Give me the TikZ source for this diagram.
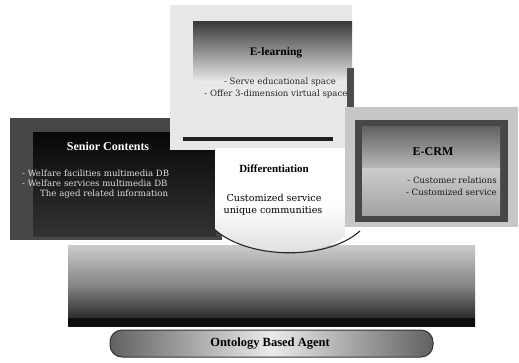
\documentclass[tikz,border=0pt]{standalone}
\usepackage{fontspec}
\setmainfont{Liberation Serif}
\newfontfamily\bodyfont{DejaVu Serif}
\begin{document}
\begin{tikzpicture}[x=1pt,y=-1pt,
  title/.style={font=\bfseries\fontsize{11.5}{13}\selectfont, inner sep=0pt, anchor=center},
  body/.style={font=\bodyfont\fontsize{8.6}{10}\selectfont, inner sep=0pt},
  boxregion/.style={inner sep=0pt, draw=none}
]
\useasboundingbox[fill=white] (0,0) rectangle (519,362);

% ---- base band
\shade[top color=black!20, bottom color=black!92, middle color=black!48] (68,245) rectangle (475,326);
\fill[black!95] (68,318) rectangle (475,326);
\node[boxregion, minimum width=407pt, minimum height=81pt] (base) at (271.5,285.5) {};

% ---- Senior Contents
\fill[black!72] (10,118) rectangle (222,240);
\shade[top color=black!97, bottom color=black!80] (33,132) rectangle (216,236);
\node[boxregion, minimum width=212pt, minimum height=122pt] (senior) at (116,179) {};
\node[title, text=white, font=\bfseries\fontsize{12}{14}\selectfont] (seniort) at (108,146) {Senior Contents};
\node[body, text=black!12, anchor=west] (s1) at (22,173) {- Welfare facilities multimedia DB};
\node[body, text=black!12, anchor=west] (s2) at (22,183.5) {- Welfare services multimedia DB};
\node[body, text=black!12, anchor=west] (s3) at (40,194) {The aged related information};

% ---- E-learning
\fill[black!9] (170,5) rectangle (352,150);
\shade[top color=black!78, bottom color=black!8] (193,21) rectangle (352,82);
\fill[black!70] (347,68) rectangle (354,108);
\fill[black!88] (183,137) rectangle (333,141);
\node[boxregion, minimum width=182pt, minimum height=145pt] (elearn) at (261,77.5) {};
\node[title] (elt) at (276,53) {E-learning};
\node[body, text=black!85, font=\bodyfont\fontsize{8.6}{10}\selectfont] (e1) at (280,82) {- Serve educational space};
\node[body, text=black!85, font=\bodyfont\fontsize{8.6}{10}\selectfont] (e2) at (276,94) {- Offer 3-dimension virtual space};

% ---- Differentiation
\shade[top color=white, bottom color=black!14, middle color=white]
  (215,148) -- (345,148) -- (345,236) .. controls (318,258) and (250,259) .. (215,230) -- cycle;
\draw[black!85, line width=1.1pt] (213,228) .. controls (245,259) and (325,262) .. (360,231);
\node[boxregion, minimum width=130pt, minimum height=90pt] (diff) at (280,193) {};
\node[title, font=\bfseries\fontsize{11}{13}\selectfont] (difft) at (274,169) {Differentiation};
\node[body, font=\bodyfont\fontsize{9.6}{11}\selectfont] (d1) at (274,198) {Customized service};
\node[body, font=\bodyfont\fontsize{9.6}{11}\selectfont] (d2) at (273,211) {unique communities};

% ---- E-CRM
\fill[black!22] (345,107) rectangle (518,227);
\fill[black!72] (355,120) rectangle (508,222);
\shade[top color=black!62, bottom color=black!28] (362,126) rectangle (500,168);
\shade[top color=black!20, bottom color=black!36] (362,168) rectangle (500,215);
\node[boxregion, minimum width=173pt, minimum height=120pt] (ecrm) at (431.5,167) {};
\node[title, font=\bfseries\fontsize{12}{14}\selectfont] (ecrmt) at (433,152) {E-CRM};
\node[body, anchor=east, text=black!90] (c1) at (497,180) {- Customer relations};
\node[body, anchor=east, text=black!90] (c2) at (497,192) {- Customized service};

% ---- Ontology Based Agent
\shade[rounded corners=12pt, left color=black!62, right color=black!62, middle color=black!8] (110,330) rectangle (433,357);
\draw[rounded corners=12pt, black!80, line width=1pt] (110,330) rectangle (433,357);
\node[boxregion, minimum width=323pt, minimum height=27pt] (agent) at (271.5,343.5) {};
\node[title, font=\bfseries\fontsize{12.5}{14}\selectfont] (agentt) at (270,343.5) {Ontology Based Agent};
\end{tikzpicture}
\end{document}
